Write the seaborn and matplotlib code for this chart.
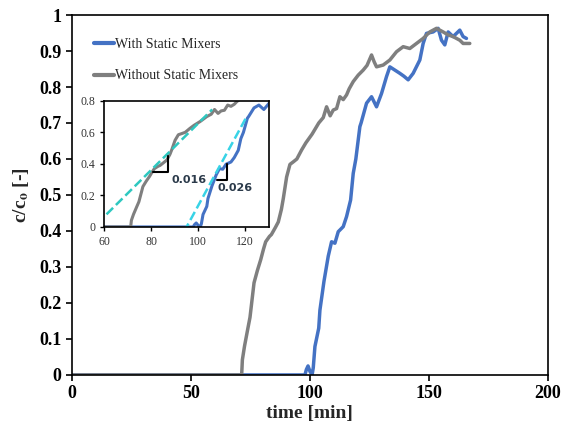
import numpy as np
import pandas as pd
import seaborn as sns
import matplotlib.pyplot as plt
from matplotlib.lines import Line2D

# breakthrough curves
t_without = [0, 71.3, 71.6, 72.5, 73.9, 74.8, 76.5, 77.9, 79.3, 80.5, 81.4, 83.0, 83.8,
             85.5, 86.7, 88.0, 88.8, 90.2, 91.6, 93.0, 94.5, 96.5, 98.3, 100.9, 102.8,
             103.7, 105.6, 107.0, 108.5, 109.8, 111.2, 112.6, 114.0, 115.4, 116.5, 118.2,
             120.3, 122.4, 124.0, 125.9, 127.0, 128.0, 130.8, 133.6, 136.4, 139.2, 142.0,
             144.8, 147.6, 150.4, 153.2, 156.0, 158.0, 160.2, 163.0, 164.4, 167.2]
c_without = [0, 0, 0.042, 0.08, 0.129, 0.16, 0.256, 0.29, 0.32, 0.35, 0.37, 0.385, 0.39,
             0.41, 0.425, 0.46, 0.49, 0.55, 0.585, 0.592, 0.60, 0.625, 0.645, 0.669, 0.69,
             0.70, 0.715, 0.745, 0.72, 0.736, 0.74, 0.773, 0.765, 0.778, 0.795, 0.815,
             0.833, 0.847, 0.86, 0.889, 0.87, 0.856, 0.861, 0.875, 0.898, 0.912, 0.907,
             0.921, 0.935, 0.953, 0.963, 0.953, 0.945, 0.94, 0.93, 0.921, 0.921]

t_with = [0, 97.9, 98.5, 99.2, 100.0, 100.9, 101.4, 102.1, 103.7, 104.2, 105.9, 107.7,
          109.1, 110.5, 111.9, 114.0, 115.4, 117.1, 118.2, 119.3, 121.0, 121.5, 123.8,
          125.9, 128.0, 130.1, 132.2, 133.6, 135.7, 137.8, 139.5, 141.3, 143.4, 146.2,
          147.6, 149.0, 151.8, 153.9, 155.3, 156.7, 158.1, 160.2, 163.0, 164.4, 165.8]
c_with = [0, 0, 0.015, 0.025, 0.01, 0.0, 0.02, 0.079, 0.13, 0.18, 0.26, 0.33, 0.37,
          0.366, 0.398, 0.412, 0.44, 0.486, 0.56, 0.60, 0.69, 0.70, 0.755, 0.773, 0.745,
          0.782, 0.829, 0.856, 0.847, 0.838, 0.83, 0.82, 0.838, 0.875, 0.921, 0.949,
          0.953, 0.963, 0.93, 0.917, 0.953, 0.94, 0.958, 0.94, 0.935]

# tangent lines and slope triangles in the inset
tan_without_t = [61.0, 106.0]
tan_without_c = [0.08, 0.745]
tri_without_t = [81.0, 87.3, 87.3]
tri_without_c = [0.35, 0.35, 0.45]
tan_with_t = [94.0, 120.7]
tan_with_c = [-0.03, 0.70]
tri_with_t = [108.2, 112.2, 112.2]
tri_with_c = [0.30, 0.30, 0.40]
slope_labels = ["0.016", "0.026"]

labels = ["With Static Mixers", "Without Static Mixers"]
BLUE = "#4472c4"
GRAY = "#7f7f7f"

df = pd.concat([
    pd.DataFrame({"time": t_with, "c": c_with, "run": labels[0]}),
    pd.DataFrame({"time": t_without, "c": c_without, "run": labels[1]}),
])

sns.set_style("ticks")
plt.rcParams["font.family"] = ["Liberation Serif", "DejaVu Serif"]
plt.rcParams["mathtext.fontset"] = "stix"

fig = plt.figure(figsize=(5.63, 4.29), dpi=100)
ax = fig.add_axes([0.128, 0.126, 0.845, 0.839])

sns.lineplot(data=df, x="time", y="c", hue="run", palette=[BLUE, GRAY],
             linewidth=2.5, sort=False, estimator=None, legend=False, ax=ax)

ax.set_xlim(0, 200)
ax.set_ylim(0, 1)
ax.set_xticks([0, 50, 100, 150, 200])
ax.set_yticks(np.arange(0, 1.01, 0.1))
ax.set_yticklabels(["0", "0.1", "0.2", "0.3", "0.4", "0.5", "0.6", "0.7", "0.8", "0.9", "1"])
ax.tick_params(labelsize=13, width=1.2, length=4, colors="black")
for lab in ax.get_xticklabels() + ax.get_yticklabels():
    lab.set_fontweight("bold")
for sp in ax.spines.values():
    sp.set_linewidth(1.2)
    sp.set_color("black")
ax.set_xlabel("time [min]", fontsize=14, fontweight="bold", labelpad=2)
ax.set_ylabel(r"c/c$_\mathbf{o}$ [-]", fontsize=14, fontweight="bold", labelpad=6)

handles = [Line2D([], [], color=BLUE, lw=3), Line2D([], [], color=GRAY, lw=3)]
ax.legend(handles, labels, loc="upper left", bbox_to_anchor=(0.02, 0.97), frameon=False,
          fontsize=10, handlelength=1.4, handletextpad=0.1, labelspacing=1.3)

# inset
ins = fig.add_axes([0.185, 0.471, 0.292, 0.294])
sns.lineplot(data=df, x="time", y="c", hue="run", palette=[BLUE, GRAY],
             linewidth=2.2, sort=False, estimator=None, legend=False, ax=ins)
ins.plot(tan_without_t, tan_without_c, ls="--", color="#2ec8c0", lw=1.8)
ins.plot(tan_with_t, tan_with_c, ls="--", color="#38d3e6", lw=1.8)
ins.plot(tri_without_t, tri_without_c, color="black", lw=1.5)
ins.plot(tri_with_t, tri_with_c, color="black", lw=1.5)
ins.text(88.5, 0.30, slope_labels[0], fontsize=8, fontweight="bold", color="#2b3a4a",
         family=["DejaVu Sans"], va="center")
ins.text(108.3, 0.245, slope_labels[1], fontsize=8, fontweight="bold", color="#2b3a4a",
         family=["DejaVu Sans"], va="center")
ins.set_xlim(60, 130)
ins.set_ylim(0, 0.8)
ins.set_xticks([60, 80, 100, 120])
ins.set_yticks([0, 0.2, 0.4, 0.6, 0.8])
ins.set_yticklabels(["0", "0.2", "0.4", "0.6", "0.8"])
ins.tick_params(labelsize=8.5, length=3, width=1, colors="black", labelcolor="#333333")
ins.set_xlabel("")
ins.set_ylabel("")
for sp in ins.spines.values():
    sp.set_linewidth(1.2)
    sp.set_color("black")

fig.savefig("out.png", dpi=100)
